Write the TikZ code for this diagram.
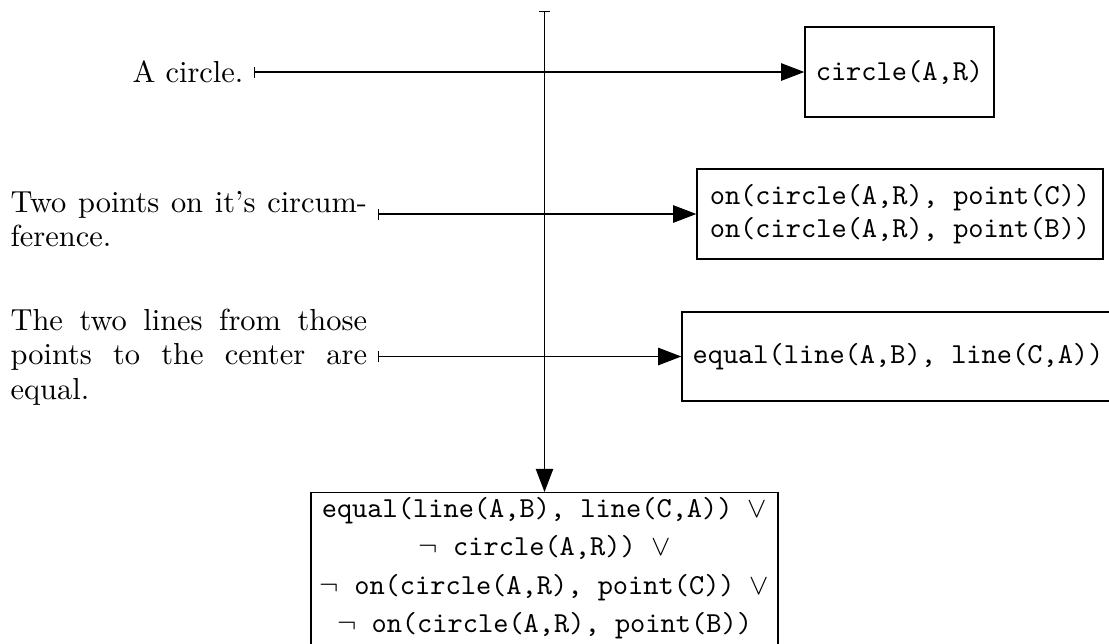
\documentclass[tikz,border=0pt]{standalone}
\usetikzlibrary{arrows.meta}
\tikzset{
  fbox/.style={draw, line width=0.45pt, align=center, inner sep=0pt,
    font=\fontsize{10}{11.6}\selectfont\ttfamily},
  tttext/.style={align=center, inner sep=0pt,
    font=\fontsize{10}{13.2}\selectfont\ttfamily},
  lbl/.style={inner ysep=0pt, inner xsep=3.45pt, font=\fontsize{10.5}{12}\selectfont},
  para/.style={lbl, text width=123pt, align=justify},
  conn/.style={line width=0.45pt, {Bar[width=3.8pt,line width=0.4pt]}-{Triangle[length=8pt,width=6pt]}},
}
\begin{document}
\begin{tikzpicture}[x=0.345pt,y=-0.345pt]
\useasboundingbox (0,0) rectangle (1109,643);
% right boxes
\node[fbox, minimum width=189*0.345pt, minimum height=90*0.345pt] (b1) at (899.5,72) {circle(A,R)};
\node[fbox, minimum width=406*0.345pt, minimum height=90*0.345pt, align=left] (b2) at (900,214)
  {on(circle(A,R), point(C))\\on(circle(A,R), point(B))};
\node[fbox, minimum width=432*0.345pt, minimum height=89*0.345pt] (b3) at (898,356.5)
  {equal(line(A,B), line(C,A))};
\node[fbox, anchor=north, minimum width=467*0.345pt, minimum height=200*0.345pt] (b4) at (544.5,492) {};
\node[tttext, anchor=north] (b4t) at (544.5,497)
  {equal(line(A,B), line(C,A)) $\vee$\\
   $\neg$ circle(A,R)) $\vee$\\
   $\neg$ on(circle(A,R), point(C)) $\vee$\\
   $\neg$ on(circle(A,R), point(B))};
% left texts
\node[lbl, anchor=east] (t1) at (254,72) {A circle.};
\node[para, anchor=west] (t2) at (0,219)
  {Two points on it's circum-\linebreak ference.};
\node[para, anchor=west] (t3) at (0,357)
  {The two lines from those\linebreak points to the center are\linebreak equal.};
\coordinate (top) at (544.5,11);
% connectors
\draw[conn] (t1.east) -- (b1.west);
\draw[conn] (t2.east |- b2.west) -- (b2.west);
\draw[conn] (t3.east |- b3.west) -- (b3.west);
\draw[conn] (top) -- (b4.north);
\end{tikzpicture}
\end{document}
